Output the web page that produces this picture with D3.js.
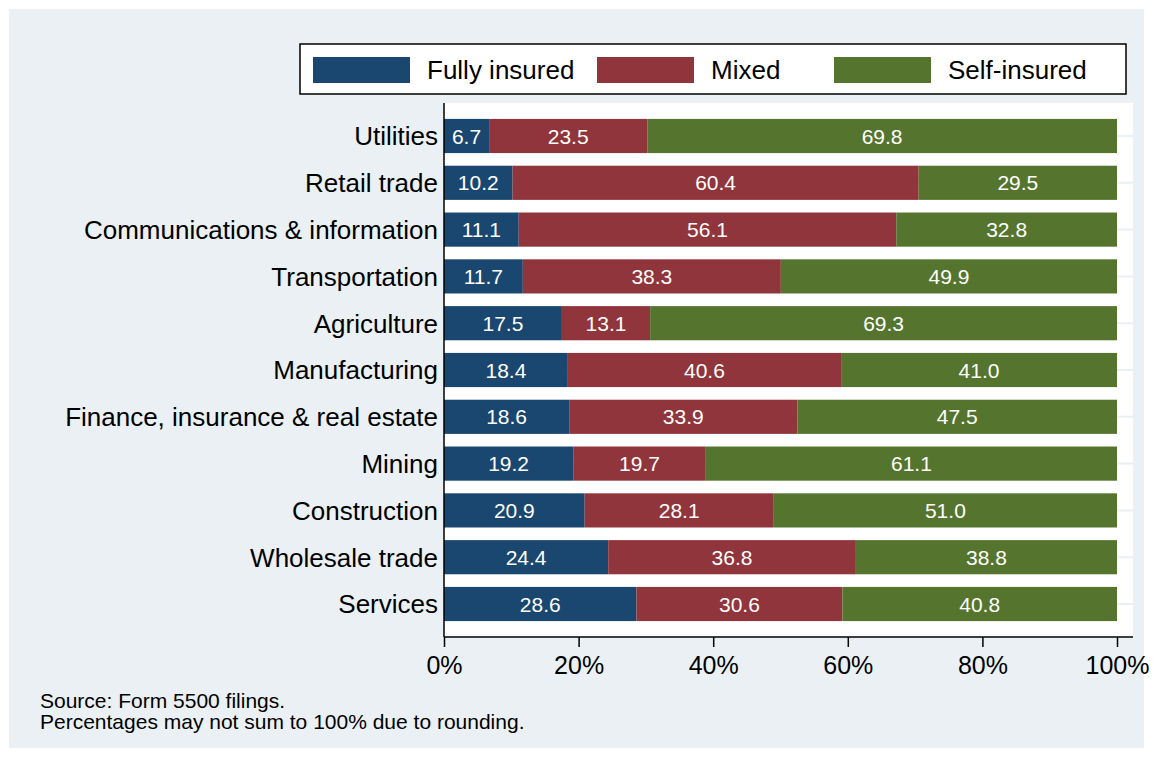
<!DOCTYPE html>
<html>
<head>
<meta charset="utf-8">
<script src="https://cdn.jsdelivr.net/npm/d3@7"></script>
<style>
  body { margin: 0; background: #fff; }
  svg { display: block; font-family: "Liberation Sans", Arial, sans-serif; }
</style>
</head>
<body>
<svg id="chart" width="1153" height="757"></svg>
<script>
// industries, top to bottom
var industries = ["Utilities", "Retail trade", "Communications & information", "Transportation",
  "Agriculture", "Manufacturing", "Finance, insurance & real estate", "Mining",
  "Construction", "Wholesale trade", "Services"];
var fullyInsured = [6.7, 10.2, 11.1, 11.7, 17.5, 18.4, 18.6, 19.2, 20.9, 24.4, 28.6];
var mixed        = [23.5, 60.4, 56.1, 38.3, 13.1, 40.6, 33.9, 19.7, 28.1, 36.8, 30.6];
var selfInsured  = [69.8, 29.5, 32.8, 49.9, 69.3, 41.0, 47.5, 61.1, 51.0, 38.8, 40.8];
var seriesNames  = ["Fully insured", "Mixed", "Self-insured"];
var xTicks       = [0, 20, 40, 60, 80, 100];
var notes        = ["Source: Form 5500 filings.", "Percentages may not sum to 100% due to rounding."];

var colors = ["#1a476f", "#90353b", "#55752f"];

var svg = d3.select("#chart");

// graph region (stata style light blue-gray)
svg.append("rect").attr("x", 9).attr("y", 9).attr("width", 1135).attr("height", 739).attr("fill", "#eaf0f3");

var plot = {left: 444, right: 1133, top: 103, bottom: 637};

svg.append("rect")
  .attr("x", plot.left).attr("y", plot.top)
  .attr("width", plot.right - plot.left).attr("height", plot.bottom - plot.top)
  .attr("fill", "#fff");

var x = d3.scaleLinear().domain([0, 100]).range([444, 1117]);
var y = d3.scaleBand().domain(industries).range([plot.top, plot.bottom])
  .paddingInner(0.27).paddingOuter(0.34);

// rows -> stacked (normalised so each bar is 100%)
var rows = industries.map(function(name, i) {
  var vals = [fullyInsured[i], mixed[i], selfInsured[i]];
  var tot = d3.sum(vals);
  var acc = 0;
  return vals.map(function(v, j) {
    var seg = {name: name, series: j, value: v, x0: acc / tot * 100, x1: (acc + v) / tot * 100};
    acc += v;
    return seg;
  });
});

// gridlines at each bar center
svg.append("g").selectAll("line")
  .data(industries)
  .enter().append("line")
    .attr("x1", plot.left).attr("x2", plot.right)
    .attr("y1", function(d) { return y(d) + y.bandwidth() / 2; })
    .attr("y2", function(d) { return y(d) + y.bandwidth() / 2; })
    .attr("stroke", "#eaf0f3").attr("stroke-width", 2);

var segs = svg.append("g").selectAll("g")
  .data(d3.merge(rows))
  .enter().append("g");

segs.append("rect")
  .attr("x", function(d) { return x(d.x0); })
  .attr("y", function(d) { return y(d.name); })
  .attr("width", function(d) { return x(d.x1) - x(d.x0); })
  .attr("height", y.bandwidth())
  .attr("fill", function(d) { return colors[d.series]; });

segs.append("text")
  .attr("x", function(d) { return (x(d.x0) + x(d.x1)) / 2; })
  .attr("y", function(d) { return y(d.name) + y.bandwidth() / 2; })
  .attr("dy", "0.36em")
  .attr("text-anchor", "middle")
  .attr("fill", "#fff")
  .attr("font-size", 21)
  .text(function(d) { return d.value.toFixed(1); });

// category labels
svg.append("g").selectAll("text")
  .data(industries)
  .enter().append("text")
    .attr("x", 438)
    .attr("y", function(d) { return y(d) + y.bandwidth() / 2; })
    .attr("dy", "0.36em")
    .attr("text-anchor", "end")
    .attr("font-size", 26)
    .attr("fill", "#000")
    .text(function(d) { return d; });

// left axis line
svg.append("line")
  .attr("x1", plot.left).attr("x2", plot.left)
  .attr("y1", plot.top).attr("y2", plot.bottom)
  .attr("stroke", "#000").attr("stroke-width", 1.5);

// bottom axis
var xAxis = svg.append("g")
  .attr("transform", "translate(0," + plot.bottom + ")")
  .call(d3.axisBottom(x).tickValues(xTicks).tickSize(10).tickPadding(9)
    .tickFormat(function(d) { return d + "%"; }));
xAxis.select(".domain").remove();
xAxis.append("line").attr("x1", plot.left).attr("x2", plot.right)
  .attr("stroke", "#000").attr("stroke-width", 1.5);
xAxis.selectAll(".tick line").attr("stroke", "#000").attr("stroke-width", 1.5);
xAxis.selectAll(".tick text")
  .attr("font-family", "Liberation Sans, Arial, sans-serif")
  .attr("font-size", 25).attr("fill", "#000");

// legend
var legend = svg.append("g");
legend.append("rect")
  .attr("x", 300).attr("y", 44).attr("width", 826).attr("height", 50)
  .attr("fill", "#fff").attr("stroke", "#000").attr("stroke-width", 1.5);
var legX = [313, 597, 834];
var item = legend.selectAll("g.item")
  .data(seriesNames)
  .enter().append("g").attr("class", "item");
item.append("rect")
  .attr("x", function(d, i) { return legX[i]; })
  .attr("y", 57).attr("width", 97).attr("height", 26)
  .attr("fill", function(d, i) { return colors[i]; });
item.append("text")
  .attr("x", function(d, i) { return legX[i] + 114; })
  .attr("y", 70).attr("dy", "0.36em")
  .attr("font-size", 26).attr("fill", "#000")
  .text(function(d) { return d; });

// notes
svg.append("g").selectAll("text")
  .data(notes)
  .enter().append("text")
    .attr("x", 40)
    .attr("y", function(d, i) { return 708 + i * 21; })
    .attr("font-size", 21).attr("fill", "#000")
    .text(function(d) { return d; });
</script>
</body>
</html>
